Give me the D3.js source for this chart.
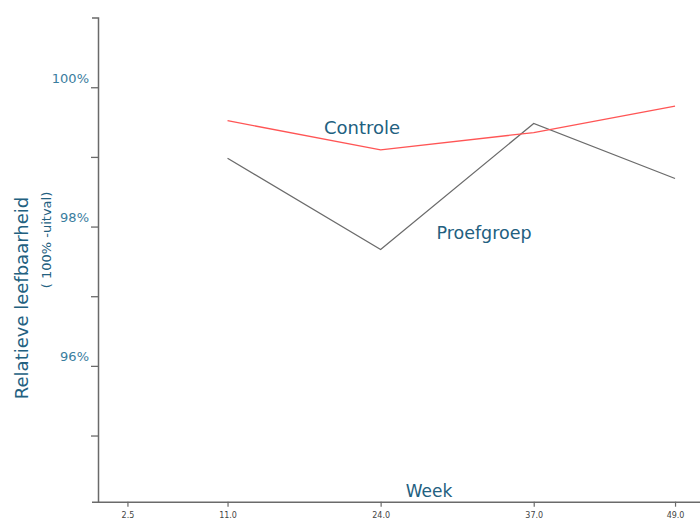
<!DOCTYPE html>
<html>
<head>
<meta charset="utf-8">
<script src="https://cdn.jsdelivr.net/npm/d3@7"></script>
<style>
  html, body { margin: 0; padding: 0; background: #fff; }
  svg { display: block; }
  text { font-family: "DejaVu Sans", Verdana, sans-serif; }
</style>
</head>
<body>
<svg id="chart" width="700" height="523"></svg>
<script>
// ---- data ----
const weeks = [11, 24, 37, 49];
const controle = [99.52, 99.10, 99.35, 99.73];
const proefgroep = [98.98, 97.67, 99.48, 98.69];
const xTickValues = [2.5, 11, 24, 37, 49];
const yTickValues = [95, 96, 97, 98, 99, 100];
const yLabelValues = [96, 98, 100];
const seriesNames = ["Controle", "Proefgroep"];

const svg = d3.select("#chart");
const x = d3.scaleLinear().domain([0, 51.12]).range([98, 700]);
const y = d3.scaleLinear().domain([94.05, 101]).range([501.7, 17.6]);

const axisColor = "#6a6a6a";
const textColor = "#22607f";
const tickTextColor = "#3a7d9e";

// Y axis
const yAxis = svg.append("g")
  .attr("transform", "translate(98,0)")
  .call(d3.axisLeft(y).tickValues(yTickValues).tickSize(7).tickSizeOuter(6)
    .tickFormat(d => yLabelValues.includes(d) ? d + "%" : ""));
yAxis.select(".domain").attr("stroke", axisColor).attr("stroke-width", 1.5);
yAxis.selectAll(".tick line").attr("stroke", axisColor).attr("stroke-width", 1.3);
yAxis.selectAll(".tick text")
  .attr("x", -9).attr("dy", "-0.38em")
  .attr("fill", tickTextColor)
  .style("font-family", "'DejaVu Sans', sans-serif")
  .style("font-size", "13px");

// X axis
const xAxis = svg.append("g")
  .attr("transform", "translate(0,501.7)")
  .call(d3.axisBottom(x).tickValues(xTickValues).tickSize(5).tickSizeOuter(0)
    .tickFormat(d3.format(".1f")));
xAxis.select(".domain").attr("stroke", axisColor).attr("stroke-width", 1.5);
xAxis.selectAll(".tick line").attr("stroke", axisColor).attr("stroke-width", 1.2);
xAxis.selectAll(".tick text")
  .attr("y", 11).attr("fill", "#444")
  .style("font-family", "'DejaVu Sans', sans-serif")
  .style("font-size", "8px");

// lines
const line = d3.line().x((d, i) => x(weeks[i])).y(d => y(d));
svg.append("path").datum(proefgroep)
  .attr("d", line).attr("fill", "none")
  .attr("stroke", "#6b6b6b").attr("stroke-width", 1.3);
svg.append("path").datum(controle)
  .attr("d", line).attr("fill", "none")
  .attr("stroke", "#ff5555").attr("stroke-width", 1.3);

// series labels
svg.append("text").attr("x", 362).attr("y", 133.5)
  .attr("text-anchor", "middle").attr("fill", textColor)
  .style("font-size", "18px").text(seriesNames[0]);
svg.append("text").attr("x", 484).attr("y", 238.5)
  .attr("text-anchor", "middle").attr("fill", textColor)
  .style("font-size", "17.5px").text(seriesNames[1]);

// axis titles
svg.append("text").attr("x", 429).attr("y", 497)
  .attr("text-anchor", "middle").attr("fill", textColor)
  .style("font-size", "17px").text("Week");
svg.append("text")
  .attr("transform", "translate(28,298) rotate(-90)")
  .attr("text-anchor", "middle").attr("fill", textColor)
  .style("font-size", "18px").text("Relatieve leefbaarheid");
svg.append("text")
  .attr("transform", "translate(51,240) rotate(-90)")
  .attr("text-anchor", "middle").attr("fill", textColor)
  .style("font-size", "13px").text("( 100% -uitval)");
</script>
</body>
</html>
